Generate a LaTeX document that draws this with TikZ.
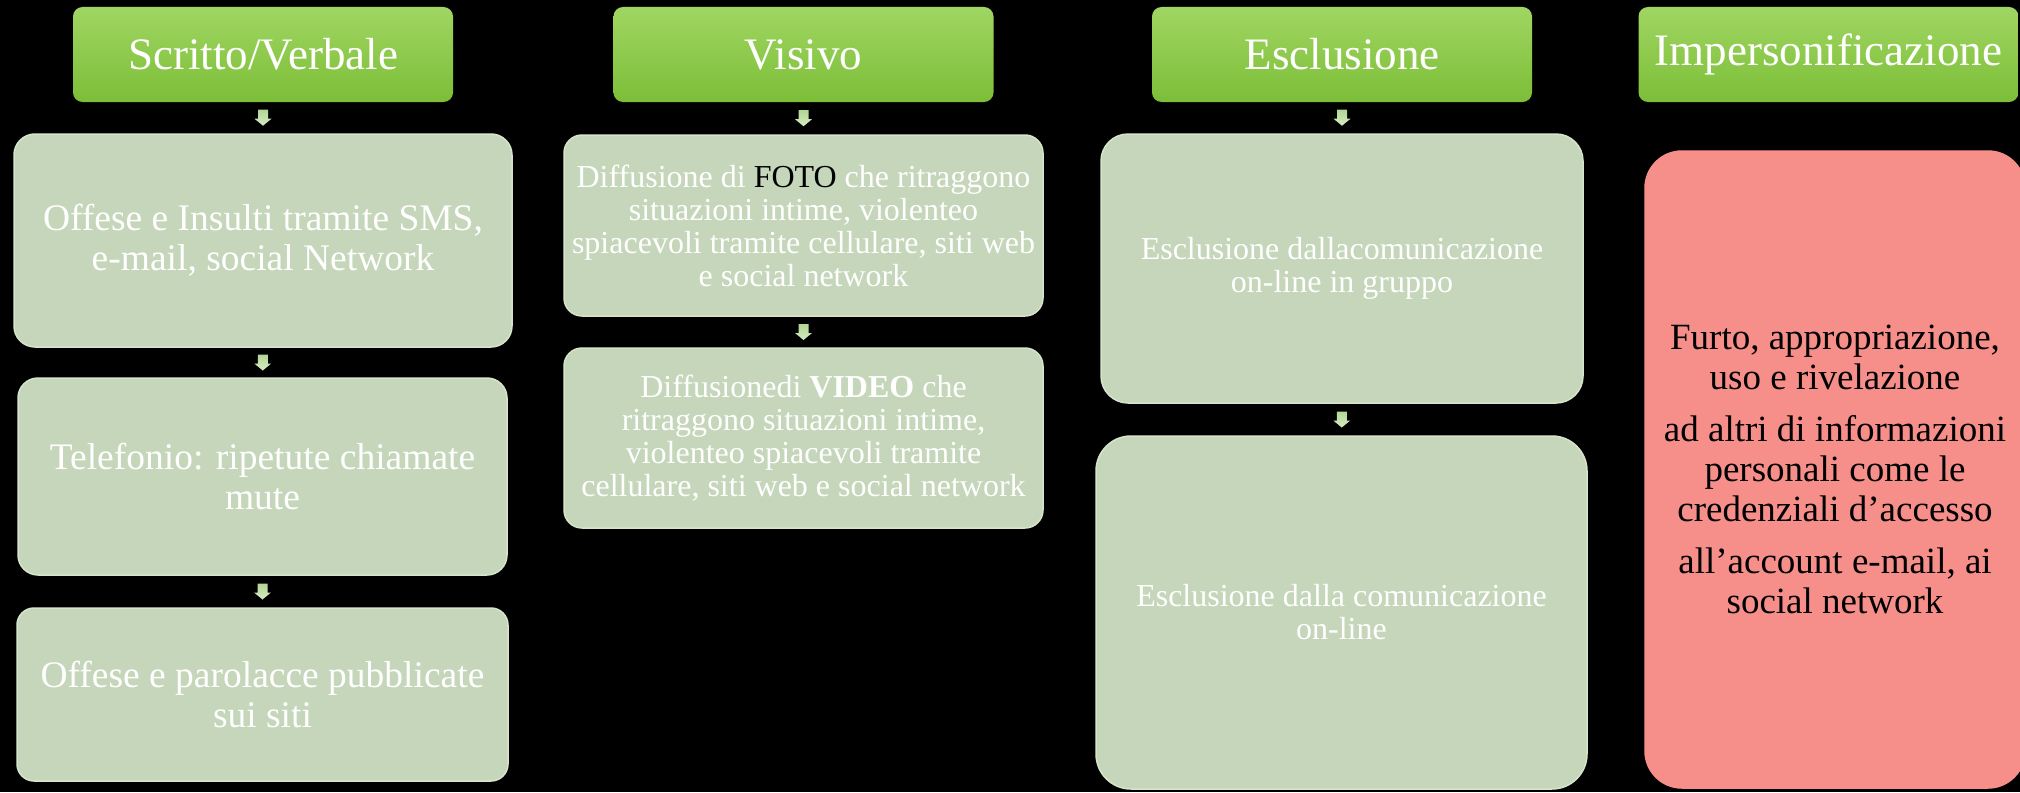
\documentclass[tikz,border=0pt]{standalone}
\usepackage{fontspec}
\setmainfont{Liberation Serif}
\usepackage{tikz}
\usetikzlibrary{calc}

\definecolor{headtop}{RGB}{160,214,98}
\definecolor{headbot}{RGB}{124,190,56}
\definecolor{boxfill}{RGB}{197,214,186}
\definecolor{boxline}{RGB}{214,228,204}
\definecolor{arrowtop}{RGB}{178,214,148}
\definecolor{arrowbot}{RGB}{214,236,196}
\definecolor{redfill}{RGB}{246,143,138}

\tikzset{
	header/.style={rounded corners=9.5pt,top color=headtop,bottom color=headbot,
		minimum width=380pt,minimum height=95pt,inner sep=0pt,text=white,
		font=\fontsize{45}{50}\selectfont},
	itembox/.style={rounded corners=#1,fill=boxfill,draw=boxline,line width=1.5pt,
		inner sep=0pt,text=white,align=center},
	bigtext/.style={font=\fontsize{37.5}{40}\selectfont},
	smalltext/.style={font=\fontsize{32}{33}\selectfont},
}

% block arrow between two named nodes
\newcommand{\greenarrow}[2]{%
	\coordinate (m) at ($(#1.south)!0.5!(#2.north)$);
	\shade[top color=arrowtop,bottom color=arrowbot]
	($(m)+(-5,-8)$) -- ($(m)+(5,-8)$) -- ($(m)+(5,1)$) -- ($(m)+(8.5,1)$)
	-- ($(m)+(0,8)$) -- ($(m)+(-8.5,1)$) -- ($(m)+(-5,1)$) -- cycle;}

\begin{document}
\begin{tikzpicture}[x=1pt,y=-1pt]
	\fill[black] (0,0) rectangle (2020,792);
	\useasboundingbox (0,0) rectangle (2020,792);
	%%%%%%%%%%%%%%% Scritto/Verbale
	\node[header] (sv) at (263,54.5) {Scritto/Verbale};
	\node[itembox=21pt,bigtext,minimum width=498pt,minimum height=213pt] (sv1) at (263,240.5)
	{Offese e Insulti tramite SMS,\\ e-mail, social Network};
	\node[itembox=20pt,bigtext,minimum width=489pt,minimum height=197pt] (sv2) at (262.5,476.5)
	{Telefonio: ripetute chiamate\\ mute};
	\node[itembox=17pt,bigtext,minimum width=491pt,minimum height=173pt] (sv3) at (262.5,694.5)
	{Offese e parolacce pubblicate\\ sui siti};
	\greenarrow{sv}{sv1}
	\greenarrow{sv1}{sv2}
	\greenarrow{sv2}{sv3}
	%%%%%%%%%%%%%%% Visivo
	\node[header] (vi) at (803.5,54.5) {Visivo};
	\node[itembox=18pt,smalltext,minimum width=479pt,minimum height=181pt] (vi1) at (803.5,225.5)
	{Diffusione di {\color{black}FOTO} che ritraggono\\ situazioni intime, violenteo\\
		spiacevoli tramite cellulare, siti web\\ e social network};
	\node[itembox=18pt,smalltext,minimum width=479pt,minimum height=180pt] (vi2) at (803.5,438)
	{Diffusionedi \textbf{VIDEO} che\\ ritraggono situazioni intime,\\
		violenteo spiacevoli tramite\\ cellulare, siti web e social network};
	\greenarrow{vi}{vi1}
	\greenarrow{vi1}{vi2}
	%%%%%%%%%%%%%%% Esclusione
	\node[header] (es) at (1342,54.5) {Esclusione};
	\node[itembox=27pt,smalltext,minimum width=482pt,minimum height=269pt] (es1) at (1342,268.5)
	{Esclusione dallacomunicazione\\ on-line in gruppo};
	\node[itembox=35pt,smalltext,minimum width=491pt,minimum height=353pt] (es2) at (1341.5,612.5)
	{Esclusione dalla comunicazione\\ on-line};
	\greenarrow{es}{es1}
	\greenarrow{es1}{es2}
	%%%%%%%%%%%%%%% Impersonificazione
	\node[header] (im) at (1828.5,54.5) {Impersonificazione};
	\node[itembox=37pt,bigtext,fill=redfill,draw=redfill,text=black,
	minimum width=380pt,minimum height=637pt,font=\fontsize{37}{40}\selectfont] (im1) at (1835,469.5)
	{Furto, appropriazione,\\ uso e rivelazione\\[12pt] ad altri di informazioni\\
		personali come le\\ credenziali d’accesso\\[12pt] all’account e-mail, ai\\ social network};
\end{tikzpicture}
\end{document}
